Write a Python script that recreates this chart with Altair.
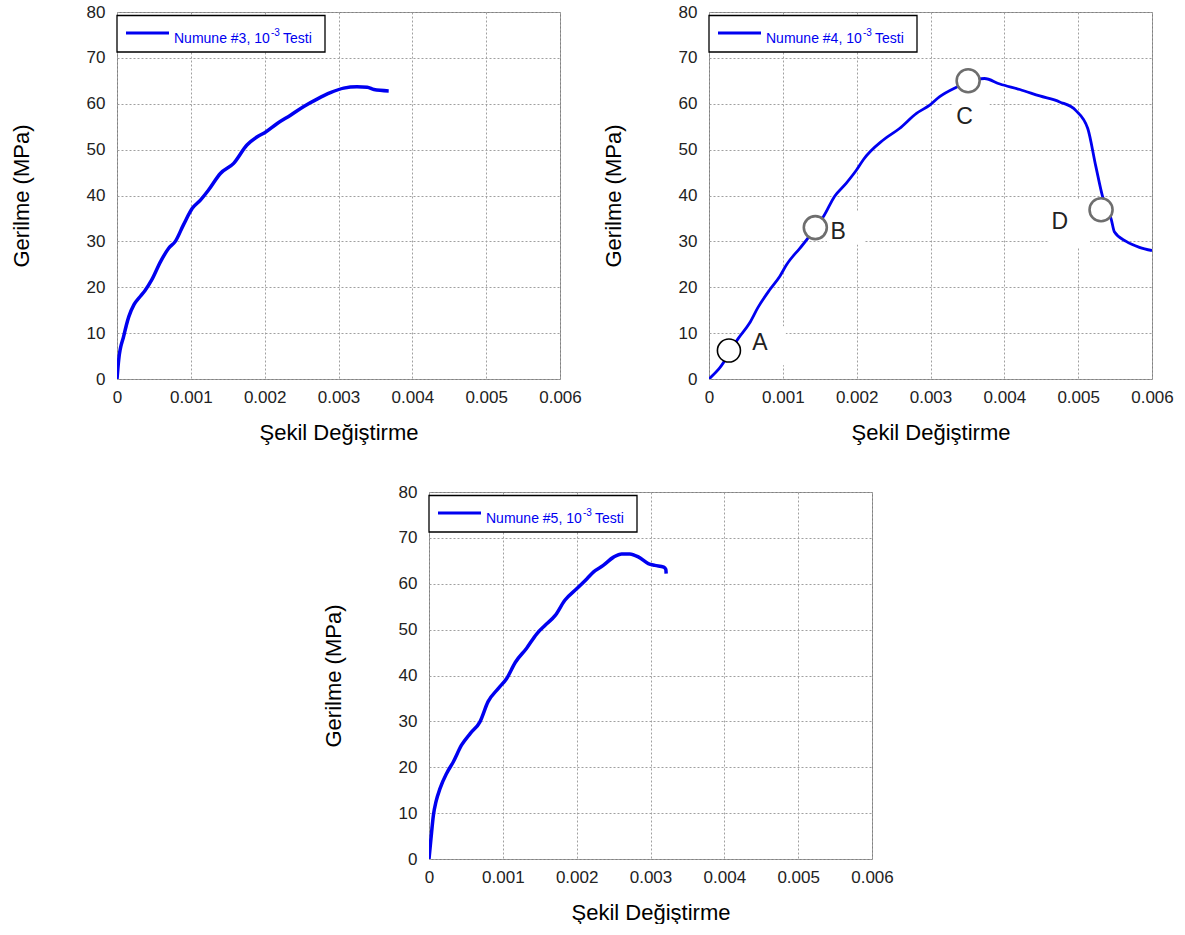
import altair as alt
import pandas as pd

# ---------------- data ----------------
x_ticks = [0, 0.001, 0.002, 0.003, 0.004, 0.005, 0.006]
y_ticks = [0, 10, 20, 30, 40, 50, 60, 70, 80]

s3_strain = [0, 0.000023, 0.00009, 0.00016, 0.00023, 0.00032, 0.00038, 0.00047, 0.00059,
             0.0007, 0.00079, 0.0009, 0.00102, 0.00113, 0.00124, 0.0014, 0.00158, 0.00176,
             0.0019, 0.002, 0.00217, 0.00235, 0.00253, 0.00271, 0.00289, 0.00307, 0.00325,
             0.00339, 0.00348, 0.00368]
s3_stress = [0, 4.2, 9.3, 13.6, 16.2, 18.1, 19.3, 21.6, 25.6,
             28.5, 30.0, 33.6, 37.2, 39.0, 41.2, 44.8, 47.0, 51.0,
             52.8, 53.7, 55.7, 57.5, 59.4, 61.0, 62.4, 63.4, 63.7,
             63.6, 63.1, 62.8]

s4_strain = [0, 0.000145, 0.00039, 0.00055, 0.00066, 0.00082, 0.00096, 0.00105, 0.00123,
             0.00134, 0.00143, 0.00155, 0.0017, 0.00186, 0.002, 0.00209, 0.00236, 0.00258,
             0.00281, 0.00299, 0.00312, 0.00335, 0.00352, 0.00373, 0.00394, 0.00421, 0.00448,
             0.00475, 0.00497, 0.00513, 0.00524, 0.00533, 0.00545, 0.00549, 0.00565, 0.00583,
             0.006]
s4_stress = [0, 2.4, 8.7, 12.2, 15.5, 19.4, 22.4, 24.9, 28.5,
             30.7, 32.9, 35.4, 39.8, 42.7, 45.6, 47.8, 52.1, 54.6,
             57.9, 59.7, 61.5, 63.6, 64.8, 65.5, 64.3, 63.1, 61.7,
             60.4, 58.5, 54.6, 46.3, 39.8, 34.7, 32.1, 30.0, 28.7,
             28.0]

s5_strain = [0, 0.000027, 0.00006, 0.000095, 0.00015, 0.00024, 0.00033, 0.00044, 0.00056,
             0.00069, 0.0008, 0.00094, 0.00105, 0.00117, 0.00132, 0.00146, 0.00157, 0.00171,
             0.00184, 0.002, 0.00214, 0.00223, 0.00236, 0.0025, 0.00261, 0.00272, 0.00284,
             0.00297, 0.00306, 0.00318, 0.003208, 0.003212]
s5_stress = [0, 4.5, 9.6, 12.5, 15.4, 18.7, 21.2, 24.8, 27.4,
             29.9, 34.3, 37.2, 39.3, 42.9, 45.9, 49.1, 50.9, 53.1,
             56.4, 58.9, 61.1, 62.6, 64.0, 65.8, 66.5, 66.5, 65.8,
             64.4, 64.0, 63.6, 63.1, 62.2]

# annotation points on specimen #4
pt_names = ["A", "B", "C", "D"]
pt_strain = [0.00027, 0.00144, 0.00351, 0.00531]
pt_stress = [6.2, 33.0, 65.0, 36.9]
lab_strain = [0.00069, 0.00175, 0.00346, 0.00475]
lab_stress = [7.8, 32.1, 57.1, 34.2]
box_x1 = [0.00047, 0.0016, 0.0033, 0.0046]
box_x2 = [0.00104, 0.00211, 0.0038, 0.00516]
box_y1 = [3.0, 29.3, 53.9, 28.8]
box_y2 = [11.5, 36.4, 61.9, 39.1]

legend_names = ["Numune #3, 10", "Numune #4, 10", "Numune #5, 10"]

FONT = "Liberation Sans"
BLUE = "#0000f0"
W, H = 443, 367


def panel(xs, ys, name, lw=3.5, extra=None):
    df = pd.DataFrame({"x": xs, "y": ys, "o": list(range(len(xs)))})
    xs_ = alt.Scale(domain=[0, 0.006], nice=False)
    ys_ = alt.Scale(domain=[0, 80], nice=False)
    xaxis = alt.Axis(values=x_ticks, labelExpr="datum.value == 0 ? '0' : format(datum.value, '.3f')",
                     title="Şekil Değiştirme", labelFont=FONT, titleFont=FONT, labelFontSize=17,
                     titleFontSize=22, titleFontWeight="normal", labelColor="#222", titleColor="#000",
                     grid=True, gridColor="#a0a0a0", gridDash=[2, 2], ticks=False, domain=False,
                     labelPadding=10, titlePadding=17, labelFlush=False)
    yaxis = alt.Axis(values=y_ticks, title="Gerilme (MPa)", labelFont=FONT, titleFont=FONT,
                     labelFontSize=17, titleFontSize=22, titleFontWeight="normal", labelColor="#222",
                     titleColor="#000", grid=True, gridColor="#a0a0a0", gridDash=[2, 2], ticks=False,
                     domain=False, labelPadding=12, titlePadding=53, labelFlush=False)
    line = alt.Chart(df).mark_line(color=BLUE, strokeWidth=lw, clip=True, interpolate="monotone").encode(
        x=alt.X("x:Q", scale=xs_, axis=xaxis),
        y=alt.Y("y:Q", scale=ys_, axis=yaxis),
        order="o:Q",
    )
    one = pd.DataFrame({"k": [0]})
    box = alt.Chart(one).mark_rect(fill="white", stroke="black", strokeWidth=1.3).encode(
        x=alt.value(0), x2=alt.value(208), y=alt.value(3.5), y2=alt.value(40))
    lline = alt.Chart(one).mark_rule(color=BLUE, strokeWidth=3).encode(
        x=alt.value(9), x2=alt.value(52), y=alt.value(21))
    t1 = alt.Chart(one).mark_text(text=name, font=FONT, fontSize=14, color=BLUE, align="left",
                                  baseline="alphabetic").encode(x=alt.value(57), y=alt.value(31))
    t2 = alt.Chart(one).mark_text(text="-3", font=FONT, fontSize=10, color=BLUE, align="left",
                                  baseline="alphabetic").encode(x=alt.value(154), y=alt.value(24))
    t3 = alt.Chart(one).mark_text(text="Testi", font=FONT, fontSize=14, color=BLUE, align="left",
                                  baseline="alphabetic").encode(x=alt.value(166), y=alt.value(31))
    layers = []
    if extra is not None:
        layers += extra[0]
    layers.append(line)
    if extra is not None:
        layers += extra[1]
    layers += [box, lline, t1, t2, t3]
    return alt.layer(*layers).properties(width=W, height=H)


# annotation layers for #4
ann = pd.DataFrame({"n": pt_names, "px": pt_strain, "py": pt_stress,
                    "lx": lab_strain, "ly": lab_stress,
                    "bx1": box_x1, "bx2": box_x2, "by1": box_y1, "by2": box_y2})
boxes = alt.Chart(ann).mark_rect(fill="white").encode(
    x="bx1:Q", x2="bx2:Q", y="by1:Q", y2="by2:Q")
circA = alt.Chart(ann[ann.n == "A"]).mark_point(shape="circle", size=530, filled=False, fill="white",
                                                  fillOpacity=1, stroke="black", strokeWidth=1.6,
                                                  opacity=1).encode(x="px:Q", y="py:Q")
circO = alt.Chart(ann[ann.n != "A"]).mark_point(shape="circle", size=530, filled=False, fill="white",
                                                  fillOpacity=1, stroke="#6e6e6e", strokeWidth=2.6,
                                                  opacity=1).encode(x="px:Q", y="py:Q")
labs = alt.Chart(ann).mark_text(font=FONT, fontSize=23, color="#222").encode(
    x="lx:Q", y="ly:Q", text="n:N")

p3 = panel(s3_strain, s3_stress, legend_names[0])
p4 = panel(s4_strain, s4_stress, legend_names[1], lw=2.8, extra=([boxes], [circA, circO, labs]))
p5 = panel(s5_strain, s5_stress, legend_names[2])

spacer = alt.Chart(pd.DataFrame({"k": [0]})).mark_point(opacity=0).encode(
    x=alt.value(0), y=alt.value(0)).properties(width=192, height=10,
                                               view=alt.ViewBackground(strokeOpacity=0))

top = alt.hconcat(p3, p4, spacing=19)
bottom = alt.hconcat(spacer, p5, spacing=12)
chart = alt.vconcat(top, bottom, spacing=38).properties(
    padding={"left": 9, "top": 2, "right": 0, "bottom": 0}
).configure_view(stroke="#808080", strokeWidth=1)

chart.save("out.html", embed_options={"renderer": "svg", "actions": False})
